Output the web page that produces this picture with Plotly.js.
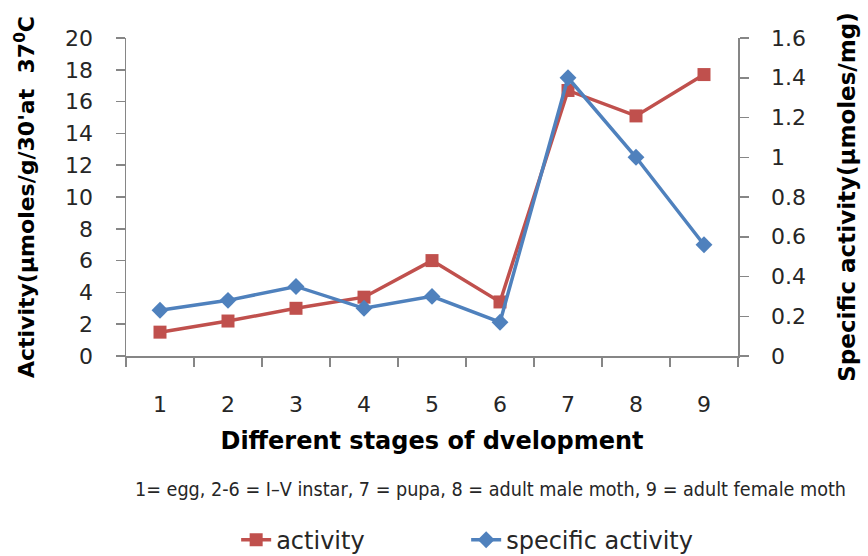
<!DOCTYPE html>
<html>
<head>
<meta charset="utf-8">
<script src="https://cdn.plot.ly/plotly-3.0.1.min.js"></script>
<style>html,body{margin:0;padding:0;background:#fff;}#chart{width:868px;height:556px;}</style>
</head>
<body>
<div id="chart"></div>
<script>
var stages = ["1", "2", "3", "4", "5", "6", "7", "8", "9"];
var activity = [1.5, 2.2, 3.0, 3.7, 6.0, 3.4, 16.7, 15.1, 17.7];
var specificActivity = [0.23, 0.28, 0.35, 0.24, 0.30, 0.17, 1.40, 1.00, 0.56];
var leftTicks = [0, 2, 4, 6, 8, 10, 12, 14, 16, 18, 20];
var rightTicks = [0, 0.2, 0.4, 0.6, 0.8, 1, 1.2, 1.4, 1.6];

var RED = "#C0504D", BLUE = "#4F81BD", AXIS = "#868686", TXT = "#262626";
var FONT = "DejaVu Sans, Liberation Sans, sans-serif";

var traces = [
  {
    x: stages, y: activity, name: "activity", type: "scatter", mode: "lines+markers",
    line: {color: RED, width: 3.5},
    marker: {symbol: "square", size: 13, color: RED},
    yaxis: "y", hoverinfo: "skip"
  },
  {
    x: stages, y: specificActivity, name: "specific activity", type: "scatter", mode: "lines+markers",
    line: {color: BLUE, width: 3.5},
    marker: {symbol: "diamond", size: 13, color: BLUE},
    yaxis: "y2", hoverinfo: "skip"
  }
];

var layout = {
  width: 868, height: 556,
  margin: {l: 126, r: 130, t: 38, b: 200, autoexpand: false},
  paper_bgcolor: "#fff", plot_bgcolor: "#fff",
  font: {family: FONT, color: TXT},
  showlegend: true,
  legend: {
    orientation: "h", x: 0.18, xanchor: "left", y: -0.579, yanchor: "middle",
    font: {family: FONT, size: 24, color: TXT}, entrywidth: 185, entrywidthmode: "pixels",
    itemclick: false
  },
  xaxis: {
    type: "category", categoryorder: "array", categoryarray: stages,
    range: [-0.5, 8.5], tickson: "boundaries",
    ticks: "outside", ticklen: 9, tickcolor: AXIS, tickwidth: 1.5,
    showline: true, linecolor: AXIS, linewidth: 1.5, showgrid: false, zeroline: false,
    tickfont: {family: FONT, size: 22, color: TXT},
    ticklabelstandoff: 28,
    title: {text: "Different stages of dvelopment", font: {family: FONT, size: 24, color: "#000", weight: "bold"}, standoff: 16}
  },
  yaxis: {
    range: [0, 20], tickvals: leftTicks, ticks: "outside", ticklen: 9, tickcolor: AXIS, tickwidth: 1.5,
    showline: true, linecolor: AXIS, linewidth: 1.5, showgrid: false, zeroline: false,
    tickfont: {family: FONT, size: 22, color: TXT},
    ticklabelstandoff: 18,
    title: {text: "Activity(µmoles/g/30'at  37<sup>0</sup>C", font: {family: FONT, size: 22, color: "#000", weight: "bold"}, standoff: 24}
  },
  yaxis2: {
    range: [0, 1.6], tickvals: rightTicks, overlaying: "y", side: "right",
    ticks: "outside", ticklen: 9, tickcolor: AXIS, tickwidth: 1.5,
    showline: true, linecolor: AXIS, linewidth: 1.5, showgrid: false, zeroline: false,
    tickfont: {family: FONT, size: 22, color: TXT},
    ticklabelstandoff: 18,
    title: {text: "Specific activity(µmoles/mg)", font: {family: FONT, size: 23, color: "#000", weight: "bold"}, standoff: 34}
  },
  annotations: [
    {
      text: "1= egg, 2-6 = I–V instar, 7 = pupa, 8 = adult male moth, 9 = adult female moth",
      xref: "paper", yref: "paper", x: 0.011, xanchor: "left", y: -0.421, yanchor: "middle",
      showarrow: false, font: {family: "Liberation Sans Narrow, DejaVu Sans Condensed, sans-serif", size: 19.6, color: TXT}
    }
  ]
};

Plotly.newPlot("chart", traces, layout, {displayModeBar: false, staticPlot: true});
</script>
</body>
</html>
